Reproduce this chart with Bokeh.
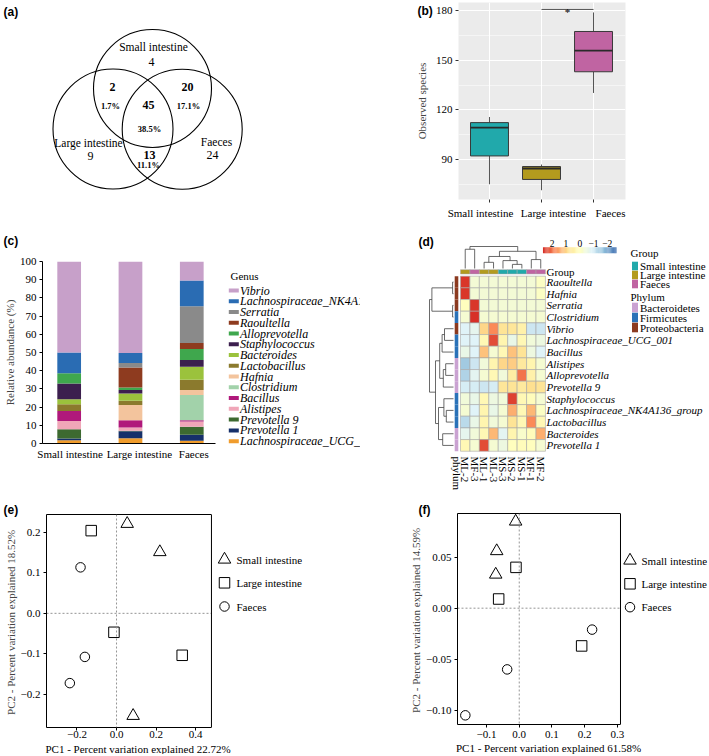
import numpy as np
from bokeh.plotting import figure
from bokeh.models import (Range1d, FixedTicker, ColumnDataSource, Span,
                          LinearColorMapper, CustomJSTickFormatter, LinearAxis, GridBox)
from bokeh.embed import file_html
from bokeh.resources import INLINE
from bokeh.core.properties import value
from bokeh.transform import transform

SERIF = "Liberation Serif"
SANS = "Liberation Sans"

# ======================= DATA =======================
# (a) Venn diagram of shared genera
venn_sets = ["Small intestine", "Large intestine", "Faeces"]
venn_unique = [4, 9, 24]
venn_pairs = [2, 20, 13]          # SI&LI, SI&F, LI&F
venn_core = 45                    # shared by all three

# (b) observed species boxplot
groups = ["Small intestine", "Large intestine", "Faeces"]
obs_lower = [75.1, 71.5, 130.2]
obs_q1 = [92.2, 78.0, 143.0]
obs_median = [109.3, 84.6, 155.7]
obs_q3 = [112.3, 85.8, 167.3]
obs_upper = [115.7, 87.0, 178.8]
sig_from, sig_to, sig_level, sig_mark = "Large intestine", "Faeces", 180.6, "*"

# (c) relative abundance of genera (%)
genera = ["Vibrio", "Lachnospiraceae_NK4A136_group", "Serratia", "Raoultella",
          "Alloprevotella", "Staphylococcus", "Bacteroides", "Lactobacillus",
          "Hafnia", "Clostridium", "Bacillus", "Alistipes", "Prevotella 9",
          "Prevotella 1", "Lachnospiraceae_UCG_001"]
abund_small = [50.0, 11.4, 0.0, 0.0, 5.7, 8.6, 2.7, 3.7, 0.0, 0.0, 5.5, 4.6, 5.1, 0.9, 1.8]
abund_large = [50.3, 5.5, 2.4, 11.0, 1.4, 1.9, 4.0, 2.4, 8.3, 0.0, 4.0, 1.8, 0.3, 3.8, 2.9]
abund_faeces = [10.5, 14.1, 20.2, 3.3, 6.0, 3.7, 7.2, 5.6, 2.8, 13.8, 0.7, 2.9, 4.4, 3.3, 1.5]
genus_colors = ["#c7a0c9", "#2a6cb3", "#8a8a8a", "#8e3b1f", "#3fa74d", "#3c1f4e",
                "#9bc23c", "#8b7a2d", "#f3c49d", "#a2d2aa", "#b0187b", "#f0a6b8",
                "#3d6a30", "#16306a", "#f09c2c"]

# (d) heatmap (row z-scores)
samples = ["ML-2", "MF-3", "ML-1", "ML-3", "MS-3", "MS-2", "MS-1", "MF-1", "MF-2"]
sample_group = ["Large intestine", "Faeces", "Large intestine", "Large intestine",
                "Small intestine", "Small intestine", "Small intestine", "Faeces", "Faeces"]
heat_genera = ["Raoultella", "Hafnia", "Serratia", "Clostridium", "Vibrio",
               "Lachnospiraceae_UCG_001", "Bacillus", "Alistipes", "Alloprevotella",
               "Prevotella 9", "Staphylococcus", "Lachnospiraceae_NK4A136_group",
               "Lactobacillus", "Bacteroides", "Prevotella 1"]
heat_phylum = ["Proteobacteria", "Proteobacteria", "Proteobacteria", "Firmicutes",
               "Proteobacteria", "Firmicutes", "Firmicutes", "Bacteroidetes",
               "Bacteroidetes", "Bacteroidetes", "Firmicutes", "Firmicutes",
               "Firmicutes", "Bacteroidetes", "Bacteroidetes"]
heat_z = [
    [2.60, -0.35, -0.35, -0.35, -0.35, -0.35, -0.35, -0.35, -0.10],
    [2.60, -0.35, -0.35, -0.35, -0.35, -0.35, -0.35, -0.35, -0.10],
    [0.05, 2.60, -0.35, -0.35, -0.35, -0.35, -0.35, -0.35, -0.35],
    [-0.30, 2.65, -0.30, -0.30, -0.30, -0.30, -0.30, -0.30, -0.30],
    [-0.90, -0.70, 1.00, 1.80, 0.80, 0.70, 0.40, -1.10, -1.10],
    [-0.90, -0.90, 0.20, 2.40, 0.30, -0.60, 0.20, -0.40, -0.50],
    [-0.60, -0.90, 1.20, -0.30, 0.20, 1.20, 0.80, -0.50, -0.90],
    [-1.60, -1.10, -0.40, 0.30, 1.00, 1.10, 0.60, 0.30, -0.30],
    [-1.40, -0.80, -0.30, 0.20, -0.40, 0.50, 2.00, 0.40, -0.30],
    [-1.00, -1.00, -1.10, -1.00, 0.70, 0.80, 0.60, 0.90, 0.80],
    [-0.40, -0.60, 0.20, -0.50, -0.40, 2.50, 0.20, 0.10, -0.30],
    [-0.30, -0.90, 0.30, -0.60, -0.30, 1.40, 0.20, 1.30, -0.10],
    [-1.30, -0.60, 0.30, -0.40, -0.30, 0.80, 0.20, 1.80, 0.20],
    [-0.70, -0.40, 0.20, 1.30, -0.80, 0.30, -0.20, 0.10, 1.40],
    [0.20, -0.30, 2.40, -0.30, -0.50, 0.00, 0.10, 0.00, -0.30],
]
# hierarchical clustering merges: (child_a, child_b, height)
row_merges = [(0, 1, 0.15), (2, 3, 0.15), (15, 16, 3.6), (4, 5, 1.5), (18, 6, 1.9),
              (7, 8, 1.3), (20, 9, 1.7), (19, 21, 2.3), (11, 12, 1.2), (10, 23, 1.6),
              (13, 14, 1.8), (24, 25, 2.5), (22, 26, 3.0), (17, 27, 4.0)]
col_merges = [(2, 3, 0.9), (5, 6, 0.6), (4, 10, 1.15), (9, 11, 1.75), (7, 8, 1.3),
              (12, 13, 2.5), (0, 1, 2.8), (15, 14, 3.2)]
phyla = ["Bacteroidetes", "Firmicutes", "Proteobacteria"]
phylum_colors = ["#caa2d2", "#2a72b8", "#8b3a20"]
group_colors = ["#21a9ab", "#b39b1e", "#c064a2"]
heat_low, heat_high = -2.67, 2.67
heat_legend_ticks = [2, 1, 0, -1, -2]

# (e) PCoA 1
e_x = {"Small intestine": [0.054, 0.219, 0.084],
       "Large intestine": [-0.128, -0.013, 0.332],
       "Faeces": [-0.182, -0.160, -0.236]}
e_y = {"Small intestine": [0.222, 0.152, -0.254],
       "Large intestine": [0.205, -0.047, -0.104],
       "Faeces": [0.114, -0.108, -0.173]}
# (f) PCoA 2
f_x = {"Small intestine": [-0.011, -0.069, -0.072],
       "Large intestine": [-0.010, -0.063, 0.191],
       "Faeces": [0.223, -0.037, -0.165]}
f_y = {"Small intestine": [0.085, 0.056, 0.033],
       "Large intestine": [0.040, 0.009, -0.037],
       "Faeces": [-0.021, -0.060, -0.105]}
group_markers = ["triangle", "square", "circle"]
group_marker_sizes = [12.5, 10.5, 9.5]


# ======================= HELPERS =======================
def base_fig(w, h, xr, yr, axes=False, **kw):
    args = dict(width=w, height=h, x_range=xr, y_range=yr, output_backend="svg",
                toolbar_location=None, title=None)
    if not axes:
        args.update(x_axis_location=None, y_axis_location=None, min_border=0)
    args.update(kw)
    p = figure(**args)
    p.frame_align = False
    p.grid.visible = False
    p.outline_line_color = None
    p.background_fill_color = "white"
    p.border_fill_color = "white"
    return p


def txt(p, xs, ys, texts, size="11px", style="normal", align="left",
        baseline="middle", font=SERIF, angle=0.0, color="black"):
    p.text(x=list(xs), y=list(ys), text=list(texts), text_font=value(font),
           text_font_size=size, text_font_style=style, text_align=align,
           text_baseline=baseline, angle=angle, text_color=color)


def style_axes(p, size="11px"):
    for ax in p.axis:
        ax.major_label_text_font = SERIF
        ax.major_label_text_font_size = size
        ax.major_label_text_color = "black"
        ax.axis_label_text_font = SERIF
        ax.axis_label_text_font_size = size
        ax.axis_label_text_font_style = "normal"
        ax.minor_tick_line_color = None
        ax.major_tick_in = 0
        ax.major_tick_out = 3


def interp_palette(anchors, n):
    rgb = [tuple(int(a[i:i + 2], 16) for i in (1, 3, 5)) for a in anchors]
    out = []
    for k in range(n):
        t = k / (n - 1) * (len(rgb) - 1)
        i = min(int(t), len(rgb) - 2)
        f = t - i
        c = [round(rgb[i][m] * (1 - f) + rgb[i + 1][m] * f) for m in range(3)]
        out.append("#%02x%02x%02x" % tuple(c))
    return out


# ======================= (a) VENN =======================
fa = base_fig(360, 232, Range1d(0, 360), Range1d(232, 0))
venn_cx = [152.0, 112.5, 181.7]
venn_cy = [88.0, 128.5, 128.7]
venn_r = [59.0, 60.0, 60.0]
fa.circle(x=venn_cx, y=venn_cy, radius=venn_r, fill_color=None,
          line_color="black", line_width=1.1)
venn_total = sum(venn_unique) + sum(venn_pairs) + venn_core
name_xy = [(153, 46), (88, 142), (216, 141)]
uniq_xy = [(151, 61), (90, 155), (212, 154)]
pair_xy = [(112, 86), (187, 86), (149, 154)]
pair_pct_xy = [(110, 105), (188, 105), (148, 164)]
core_xy, core_pct_xy = (148, 104), (149, 128)
txt(fa, [a for a, b in name_xy], [b for a, b in name_xy], venn_sets, "11.5px", align="center")
txt(fa, [a for a, b in uniq_xy], [b for a, b in uniq_xy], [str(v) for v in venn_unique],
    "12px", align="center")
txt(fa, [a for a, b in pair_xy] + [core_xy[0]], [b for a, b in pair_xy] + [core_xy[1]],
    [str(v) for v in venn_pairs] + [str(venn_core)], "12px", style="bold", align="center")
txt(fa, [a for a, b in pair_pct_xy] + [core_pct_xy[0]],
    [b for a, b in pair_pct_xy] + [core_pct_xy[1]],
    ["%.1f%%" % (100.0 * v / venn_total) for v in venn_pairs + [venn_core]],
    "8.5px", style="bold", align="center")

# ======================= (b) BOXPLOT =======================
gpos = [i + 1 for i in range(len(groups))]
box_w = 0.73
box_label_pos = [0.827, 2.231, 3.327]   # where the category names sit
fb = base_fig(348, 232, Range1d(0.404, 3.615), Range1d(65.9, 184.8), axes=True,
              min_border_left=98, min_border_right=83, min_border_top=2,
              min_border_bottom=33)
fb.background_fill_color = "#EBEBEB"
fb.grid.visible = True
fb.xaxis.ticker = FixedTicker(ticks=box_label_pos, minor_ticks=gpos)
fb.xgrid.ticker = FixedTicker(ticks=gpos)
fb.yaxis.ticker = FixedTicker(ticks=[90, 120, 150, 180], minor_ticks=[75, 105, 135, 165])
fb.grid.grid_line_color = "white"
fb.grid.grid_line_width = 1.1
fb.ygrid.minor_grid_line_color = "white"
fb.ygrid.minor_grid_line_width = 0.5
bsrc = ColumnDataSource(dict(
    x=gpos, xl=[g - box_w / 2 for g in gpos], xr=[g + box_w / 2 for g in gpos],
    lo=obs_lower, q1=obs_q1, med=obs_median, q3=obs_q3, hi=obs_upper,
    color=group_colors))
fb.segment(x0="x", y0="lo", x1="x", y1="q1", source=bsrc, line_color="#555555", line_width=1)
fb.segment(x0="x", y0="q3", x1="x", y1="hi", source=bsrc, line_color="#555555", line_width=1)
fb.vbar(x="x", bottom="q1", top="q3", width=box_w, fill_color="color",
        line_color="#3a3a3a", line_width=1, source=bsrc)
fb.segment(x0="xl", y0="med", x1="xr", y1="med", source=bsrc, line_color="#2a2a2a",
           line_width=1.8)
sx0 = groups.index(sig_from) + 1
sx1 = groups.index(sig_to) + 1
fb.segment(x0=[sx0], y0=[sig_level], x1=[sx1], y1=[sig_level], line_color="#555555",
           line_width=1)
txt(fb, [(sx0 + sx1) / 2], [sig_level - 1.3], [sig_mark], "11px", align="center",
    baseline="alphabetic")
style_axes(fb)
for ax in fb.axis:
    ax.axis_line_color = None
    ax.major_tick_line_color = "#333333"
    ax.major_label_standoff = 2
fb.xaxis.major_tick_line_color = None
fb.xaxis.minor_tick_line_color = "#333333"
fb.xaxis.minor_tick_out = 3
fb.xaxis.minor_tick_in = 0
fb.xaxis.major_label_standoff = 4
fb.xaxis.major_label_overrides = {p: n for p, n in zip(box_label_pos, groups)}
fb.yaxis.axis_label = "Observed species"
fb.yaxis.axis_label_standoff = 5

# ======================= (c) STACKED BARS =======================
bar_label_pos = [1.016, 2.145, 3.033]
fc = base_fig(222, 262, Range1d(0.565, 3.387), Range1d(0, 100), axes=True,
              min_border_left=40, min_border_right=7, min_border_top=29,
              min_border_bottom=51)
stack_order = list(reversed(genera))
csrc = {"x": gpos}
for gi, g in enumerate(genera):
    csrc[g] = [abund_small[gi], abund_large[gi], abund_faeces[gi]]
csrc = ColumnDataSource(csrc)
color_of = dict(zip(genera, genus_colors))
fc.vbar_stack(stackers=stack_order, x="x", width=0.387,
              fill_color=[color_of[g] for g in stack_order], line_color=None, source=csrc)
style_axes(fc)
fc.xaxis.ticker = FixedTicker(ticks=bar_label_pos)
fc.xaxis.major_label_overrides = {p: n for p, n in zip(bar_label_pos, groups)}
fc.xaxis.major_tick_line_color = None
fc.xaxis.major_tick_out = 0
fc.xaxis.major_label_standoff = 4
fc.yaxis.ticker = FixedTicker(ticks=list(range(0, 101, 10)))
fc.yaxis.axis_label = "Relative abundance (%)"
fc.yaxis.major_tick_out = 3
fc.yaxis.major_label_standoff = 3
fc.yaxis.axis_label_standoff = 1
for ax in fc.axis:
    ax.axis_line_color = "black"
fc.yaxis.major_tick_line_color = "black"

# legend of (c)
fcl = base_fig(138, 262, Range1d(222, 360), Range1d(494, 232))
leg_y = [290 + i * 10.76 for i in range(len(genera))]
fcl.rect(x=233.3, y=leg_y, width=10, height=4, fill_color=genus_colors, line_color=None)
txt(fcl, [239.5] * len(genera), leg_y, genera, "12px", style="italic")
txt(fcl, [230], [275.5], ["Genus"], "11px")

# ======================= (d) HEATMAP =======================
def hx(px):
    return (px - 460.0) / 9.44


def hy(py):
    return (py - 275.7) / 11.67


fd = base_fig(348, 262, Range1d(hx(360), hx(708)), Range1d(hy(494), hy(232)))
heat_palette = interp_palette(["#4575B4", "#91BFDB", "#E0F3F8", "#FFFFBF",
                               "#FEE090", "#FC8D59", "#D73027"], 100)
mapper = LinearColorMapper(palette=heat_palette, low=heat_low, high=heat_high)
cx, cy, cz = [], [], []
for i in range(len(heat_genera)):
    for j in range(len(samples)):
        cx.append(j + 0.5)
        cy.append(i + 0.5)
        cz.append(heat_z[i][j])
fd.rect(x="x", y="y", width=1, height=1, source=ColumnDataSource(dict(x=cx, y=cy, z=cz)),
        fill_color=transform("z", mapper), line_color="#a6a6a6", line_width=0.6)
gcol = dict(zip(groups, group_colors))
fd.rect(x=[j + 0.5 for j in range(len(samples))], y=hy(271.3), width=1, height=4.3 / 11.67,
        fill_color=[gcol[g] for g in sample_group], line_color="#a6a6a6", line_width=0.5)
pcol = dict(zip(phyla, phylum_colors))
fd.rect(x=hx(456.0), y=[i + 0.5 for i in range(len(heat_genera))], width=3.6 / 9.44, height=1,
        fill_color=[pcol[p] for p in heat_phylum], line_color=None)


def dendro(merges, n, to_coord):
    pos = [k + 0.5 for k in range(n)]
    hgt = [0.0] * n
    along, across = [], []
    for a, b, h in merges:
        along.append([pos[a], pos[a], pos[b], pos[b]])
        across.append([to_coord(hgt[a]), to_coord(h), to_coord(h), to_coord(hgt[b])])
        pos.append((pos[a] + pos[b]) / 2)
        hgt.append(h)
    return along, across


row_hmax = max(m[2] for m in row_merges)
col_hmax = max(m[2] for m in col_merges)
ra, rc = dendro(row_merges, len(heat_genera), lambda h: hx(453 - h / row_hmax * 24))
fd.multi_line(xs=rc, ys=ra, line_color="#444444", line_width=0.8)
ca, cc = dendro(col_merges, len(samples), lambda h: hy(268 - h / col_hmax * 22))
fd.multi_line(xs=ca, ys=cc, line_color="#444444", line_width=0.8)
txt(fd, [hx(546)] * len(heat_genera), [i + 0.5 for i in range(len(heat_genera))],
    heat_genera, "11px", style="italic")
txt(fd, [hx(546)], [hy(271.3)], ["Group"], "11px")
txt(fd, [j + 0.5 for j in range(len(samples))] + [hx(456)], [hy(456)] * (len(samples) + 1),
    samples + ["phylum"], "11px", angle=-np.pi / 2)
cb_left, cb_right, cb_n = 542.5, 616.0, 64
cb_vals = list(np.linspace(heat_high, heat_low, cb_n))
cb_step = (cb_right - cb_left) / cb_n
cb_x = [hx(cb_left + (k + 0.5) * cb_step) for k in range(cb_n)]
fd.rect(x="x", y=hy(249.7), width=cb_step / 9.44 * 1.08, height=6 / 11.67,
        source=ColumnDataSource(dict(x=cb_x, z=cb_vals)),
        fill_color=transform("z", mapper), line_color=None)
cb_tx = [hx(cb_left + (heat_high - v) / (heat_high - heat_low) * (cb_right - cb_left))
         for v in heat_legend_ticks]
txt(fd, cb_tx, [hy(242.5)] * len(heat_legend_ticks),
    [str(v).replace("-", "\u2212") for v in heat_legend_ticks], "9.5px", align="center")
g_leg_y = [265.5, 274.5, 283.5]
p_leg_y = [307.0, 317.0, 327.0]
fd.rect(x=hx(634.5), y=[hy(v) for v in g_leg_y], width=6 / 9.44, height=8.6 / 11.67,
        fill_color=group_colors, line_color=None)
fd.rect(x=hx(634.5), y=[hy(v) for v in p_leg_y], width=6 / 9.44, height=9.6 / 11.67,
        fill_color=phylum_colors, line_color=None)
txt(fd, [hx(630), hx(630)], [hy(252), hy(296)], ["Group", "Phylum"], "11px")
txt(fd, [hx(639.5)] * 6, [hy(v) for v in g_leg_y + p_leg_y], groups + phyla, "11px")


# ======================= (e) / (f) PCoA =======================
def pcoa(fig_left, w, h, x0, x_end, sx, y0, y1, xs, ys, xticks, yticks, xdec, ydec,
         ylabel, mbl, mbt, mbb, xstand, leg_mx, leg_tx, leg_py):
    frame_left = fig_left + mbl
    frame_top = 494 + mbt
    sy = (h - mbt - mbb) / (y1 - y0)

    def px2x(px):
        return x0 + (px - frame_left) / sx

    def px2y(py):
        return y1 - (py - frame_top) / sy

    p = base_fig(w, h, Range1d(x0, px2x(fig_left + w)), Range1d(y0, y1), axes=True,
                 min_border_left=mbl, min_border_right=0, min_border_top=mbt,
                 min_border_bottom=mbb)
    bottom = p.below[0]
    left = p.left[0]
    top = LinearAxis(ticker=FixedTicker(ticks=[]))
    p.add_layout(top, "above")
    p.add_layout(Span(location=x_end, dimension="height", line_color="black", line_width=1))
    p.add_layout(Span(location=0, dimension="height", line_color="#888888",
                      line_dash="2 2", line_width=0.9))
    p.segment(x0=[x0], y0=[0], x1=[x_end], y1=[0], line_color="#888888",
              line_dash="2 2", line_width=0.9)
    for g, mk, sz in zip(groups, group_markers, group_marker_sizes):
        p.scatter(x=xs[g], y=ys[g], marker=mk, size=sz, fill_color=None,
                  line_color="black", line_width=1)
    p.scatter(x=[px2x(leg_mx)] * len(groups), y=[px2y(v) for v in leg_py],
              marker=group_markers, size=group_marker_sizes, fill_color=None,
              line_color="black", line_width=1)
    txt(p, [px2x(leg_tx)] * len(groups), [px2y(v) for v in leg_py], groups, "11px")
    style_axes(p)
    for ax in (bottom, left, top):
        ax.axis_line_color = "black"
        ax.major_tick_line_color = "black"
    bottom.bounds = (x0, x_end)
    top.bounds = (x0, x_end)
    top.major_tick_line_color = None
    top.major_tick_out = 0
    top.major_label_standoff = 0
    left.major_label_standoff = 3
    left.axis_label_standoff = 1
    bottom.major_label_standoff = xstand
    bottom.ticker = FixedTicker(ticks=xticks)
    left.ticker = FixedTicker(ticks=yticks)
    code = "const s = Math.abs(tick).toFixed(d); return (tick < -1e-9 ? '\u2212' : '') + s;"
    bottom.formatter = CustomJSTickFormatter(args=dict(d=xdec), code=code)
    left.formatter = CustomJSTickFormatter(args=dict(d=ydec), code=code)
    left.axis_label = ylabel
    return p


fe = pcoa(0, 360, 260, -0.354, 0.480, 197.8, -0.283, 0.245, e_x, e_y,
          [-0.2, 0.0, 0.2, 0.4], [-0.2, -0.1, 0.0, 0.1, 0.2], 1, 1,
          "PC2  - Percent variation explained 18.52%", 46, 20, 27, 0,
          224, 236, [559, 582.3, 606])
ff = pcoa(360, 348, 260, -0.189, 0.3099, 326.7, -0.114, 0.0928, f_x, f_y,
          [-0.1, 0.0, 0.1, 0.2, 0.3], [-0.10, -0.05, 0.0, 0.05], 1, 2,
          "PC2  - Percent variation explained 14.59%", 97, 19, 30, 3,
          629.5, 641, [560, 583.3, 606.7])

# ======================= overlay: panel tags and x titles =======================
fov = base_fig(708, 754, Range1d(0, 708), Range1d(754, 0))
fov.background_fill_alpha = 0
fov.border_fill_alpha = 0
panel_tags = ["(a)", "(b)", "(c)", "(d)", "(e)", "(f)"]
tag_xy = [(3, 4), (417, 3), (3, 233), (418, 234), (3, 502), (418, 502)]
txt(fov, [a for a, b in tag_xy], [b for a, b in tag_xy], panel_tags, "12px",
    style="bold", baseline="top", font=SANS)
pc1_titles = ["PC1 - Percent variation explained 22.72%",
              "PC1 - Percent variation explained 61.58%"]
txt(fov, [137.5, 548], [748, 747], pc1_titles, "11px", align="center")

grid = GridBox(children=[
    (fa, 0, 0, 1, 2), (fb, 0, 2, 1, 1),
    (fc, 1, 0, 1, 1), (fcl, 1, 1, 1, 1), (fd, 1, 2, 1, 1),
    (fe, 2, 0, 1, 2), (ff, 2, 2, 1, 1),
    (fov, 0, 0, 3, 3)], spacing=0)
open("out.html", "w").write(file_html(grid, INLINE))
